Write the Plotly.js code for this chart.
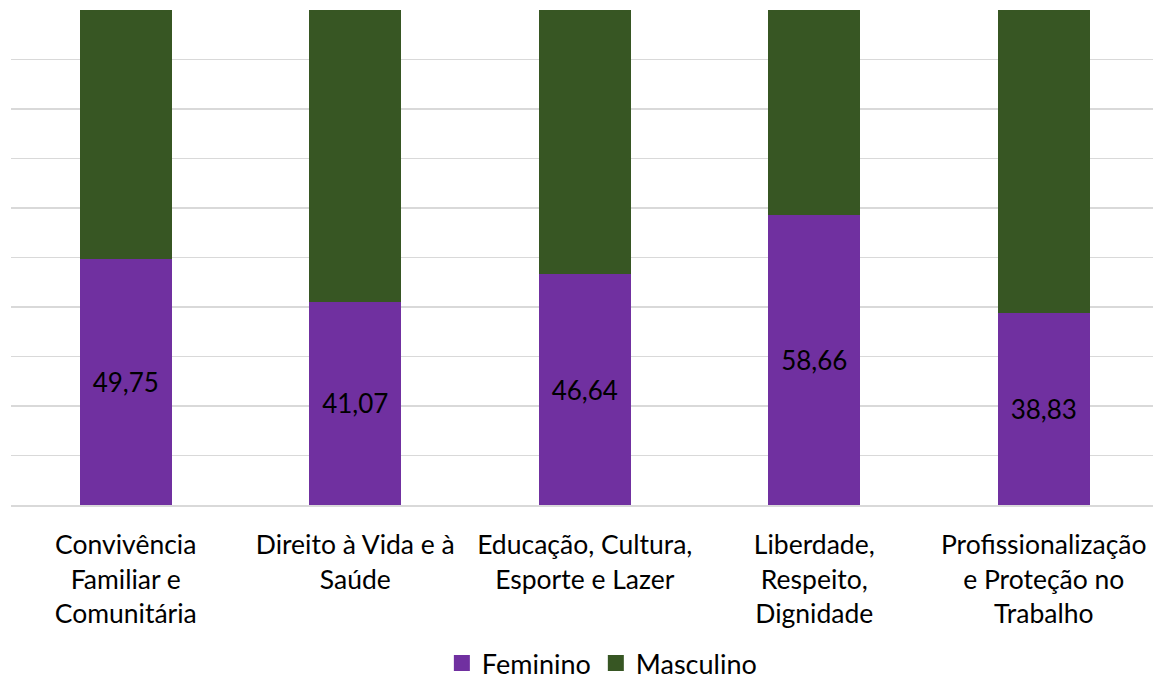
<!DOCTYPE html>
<html>
<head>
<meta charset="utf-8">
<script src="https://cdn.plot.ly/plotly-3.0.1.min.js"></script>
<style>html,body{margin:0;padding:0;background:#fff;}#chart{width:1153px;height:688px;}</style>
</head>
<body>
<div id="chart"></div>
<script>
const categories = [
  "Convivência<br>Familiar e<br>Comunitária",
  "Direito à Vida e à<br>Saúde",
  "Educação, Cultura,<br>Esporte e Lazer",
  "Liberdade,<br>Respeito,<br>Dignidade",
  "Profissionalização<br>e Proteção no<br>Trabalho"
];
const feminino = [49.75, 41.07, 46.64, 58.66, 38.83];
const masculino = [50.25, 58.93, 53.36, 41.34, 61.17];
const seriesNames = ["Feminino", "Masculino"];
const seriesColors = ["#7030A0", "#375623"];

const FONT = "Lato, 'Open Sans', sans-serif";

const traces = [
  {
    type: "bar", name: seriesNames[0], x: categories, y: feminino,
    marker: {color: seriesColors[0]}, width: 0.4, showlegend: false,
    texttemplate: "%{y:.2f}", textposition: "inside", insidetextanchor: "middle",
    textangle: 0, constraintext: "none",
    textfont: {family: FONT, size: 26, color: "#000"},
    hoverinfo: "skip"
  },
  {
    type: "bar", name: seriesNames[1], x: categories, y: masculino,
    marker: {color: seriesColors[1]}, width: 0.4, showlegend: false,
    textposition: "none", hoverinfo: "skip"
  }
];
// legend-only entries with larger square swatches
seriesNames.forEach((n, i) => {
  traces.push({
    type: "scatter", mode: "markers", name: n, x: [categories[0]], y: [null],
    marker: {symbol: "square", size: 17, color: seriesColors[i]},
    hoverinfo: "skip", showlegend: true
  });
});

const layout = {
  width: 1153, height: 688,
  barmode: "stack",
  separators: ",.",
  margin: {l: 11, r: 0, t: 10, b: 183},
  paper_bgcolor: "#fff", plot_bgcolor: "#fff",
  font: {family: FONT, size: 26, color: "#000"},
  showlegend: true,
  legend: {
    orientation: "h", x: 0.522, xanchor: "center", xref: "container",
    y: -0.013, yanchor: "bottom", yref: "container",
    font: {family: FONT, size: 27, color: "#000"}, traceorder: "normal",
    itemwidth: 30, tracegroupgap: 0
  },
  xaxis: {
    range: [-0.5, 4.476], showgrid: false, showline: true, linecolor: "#d9d9d9", linewidth: 1.5,
    ticks: "", tickangle: 0, ticklabelstandoff: 16, automargin: false,
    tickfont: {family: FONT, size: 26.5, color: "#000"}
  },
  yaxis: {
    range: [0, 100], dtick: 10, showgrid: true, gridcolor: "#d9d9d9", gridwidth: 1.5,
    showticklabels: false, zeroline: false, ticks: "", automargin: false
  }
};

Plotly.newPlot("chart", traces, layout, {displayModeBar: false, staticPlot: true});
</script>
</body>
</html>
